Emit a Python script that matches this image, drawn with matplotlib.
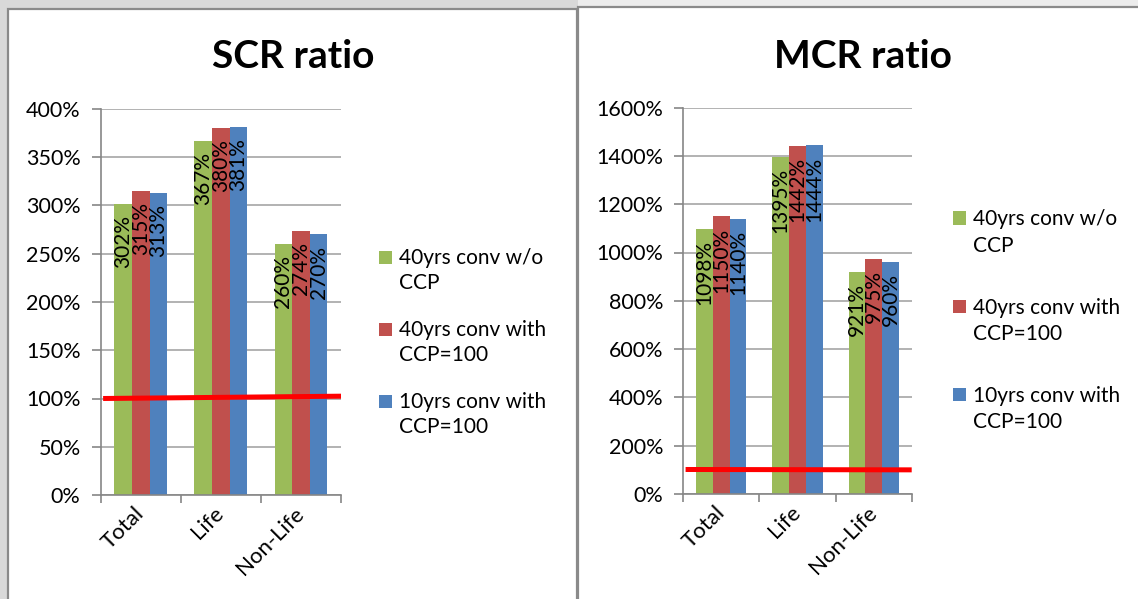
import matplotlib
matplotlib.use("Agg")
import matplotlib.pyplot as plt
from matplotlib.patches import Rectangle
from matplotlib.ticker import FixedLocator, FuncFormatter, MultipleLocator

plt.rcParams['font.family'] = ['Lato', 'DejaVu Sans']

categories = ["Total", "Life", "Non-Life"]
series_names = ["40yrs conv w/o\nCCP", "40yrs conv with\nCCP=100", "10yrs conv with\nCCP=100"]
colors = ["#9BBB59", "#C0504D", "#4F81BD"]

scr_values = [
    [302, 367, 260],
    [315, 380, 274],
    [313, 381, 270],
]
mcr_values = [
    [1098, 1395, 921],
    [1150, 1442, 975],
    [1140, 1444, 960],
]
# hand drawn 100% lines (start, end)
scr_limit = [100, 102.4]
mcr_limit = [101.5, 100]

W, H = 1138, 599
fig = plt.figure(figsize=(W / 100, H / 100), dpi=100)
fig.patch.set_facecolor("#d9d9d9")


def fx(px):
    return px / W


def fy(py):
    return 1 - py / H


# light band above right panel and the two white panels
fig.add_artist(Rectangle((fx(578), fy(7.5)), 1, 1, transform=fig.transFigure,
                         facecolor="#ececec", edgecolor="none", zorder=0))
fig.add_artist(Rectangle((fx(8), fy(620)), fx(569), fy(9) - fy(620), transform=fig.transFigure,
                         facecolor="white", edgecolor="#8a8a8a", lw=1.6, zorder=0))
fig.add_artist(Rectangle((fx(578), fy(620)), fx(600), fy(7.5) - fy(620), transform=fig.transFigure,
                         facecolor="white", edgecolor="#8a8a8a", lw=1.6, zorder=0))


def make_panel(box, values, limit, ymax, ystep, bar_w, title, title_x, legend_x, legend_y, legend_gap, lsp):
    left, right, top, bottom = box
    ax = fig.add_axes([fx(left), fy(bottom), fx(right) - fx(left), fy(top) - fy(bottom)])
    ax.set_facecolor("none")
    x = range(len(categories))
    for i, vals in enumerate(values):
        xs = [c + (i - 1) * bar_w for c in x]
        bars = ax.bar(xs, vals, width=bar_w, color=colors[i], zorder=2)
        for b, v in zip(bars, vals):
            ax.annotate(f"{v}%", (b.get_x() + b.get_width() / 2, v),
                        xytext=(0, -8), textcoords="offset points",
                        rotation=90, ha="center", va="top", fontsize=15,
                        color="black", zorder=4)
    ax.plot([-0.47, 2.5], limit, color="#ff0000", lw=3.6, solid_capstyle="butt", zorder=3)

    ax.set_xlim(-0.5, 2.5)
    ax.set_ylim(0, ymax)
    ax.yaxis.set_major_locator(MultipleLocator(ystep))
    ax.yaxis.set_major_formatter(FuncFormatter(lambda v, p: f"{v:.0f}%"))
    ax.grid(axis="y", color="#a6a6a6", lw=1.2, zorder=1)
    ax.xaxis.set_major_locator(FixedLocator([-0.5, 0.5, 1.5, 2.5]))
    ax.xaxis.set_major_formatter(FuncFormatter(lambda v, p: ""))
    ax.xaxis.set_minor_locator(FixedLocator(list(x)))
    ax.set_xticklabels(categories, minor=True)
    ax.tick_params(axis="x", which="major", length=5.5, width=1.2, color="#868686")
    ax.tick_params(axis="x", which="minor", length=0, pad=11, labelsize=16)
    ax.tick_params(axis="y", length=6.5, width=1.2, color="#868686", labelsize=15.5, pad=8)
    for lab in ax.get_xticklabels(minor=True):
        lab.set_rotation(45)
        lab.set_ha("right")
        lab.set_va("center")
        lab.set_rotation_mode("anchor")
    for s in ["top", "right"]:
        ax.spines[s].set_visible(False)
    for s in ["left", "bottom"]:
        ax.spines[s].set_color("#868686")
        ax.spines[s].set_linewidth(1.2)

    fig.text(fx(title_x), fy(56), title, ha="center", va="center",
             fontsize=28, fontweight="bold")

    for i, name in enumerate(series_names):
        cy = legend_y + i * legend_gap
        fig.add_artist(Rectangle((fx(legend_x), fy(cy + 6.5)), fx(13), fy(cy - 6.5) - fy(cy + 6.5),
                                 transform=fig.transFigure, facecolor=colors[i], edgecolor="none"))
        fig.text(fx(legend_x + 20), fy(cy - 8.5), name, ha="left", va="top",
                 fontsize=15, linespacing=lsp)
    return ax


make_panel((100.7, 341, 109, 495), scr_values, scr_limit, 400, 50, 0.22,
           "SCR ratio", 293, 379, 257, 72, 1.3)
make_panel((683.3, 911.7, 107.6, 494), mcr_values, mcr_limit, 1600, 200, 0.22,
           "MCR ratio", 863, 953, 218, 88, 1.4)

fig.savefig("out.png", dpi=100, facecolor=fig.get_facecolor())
